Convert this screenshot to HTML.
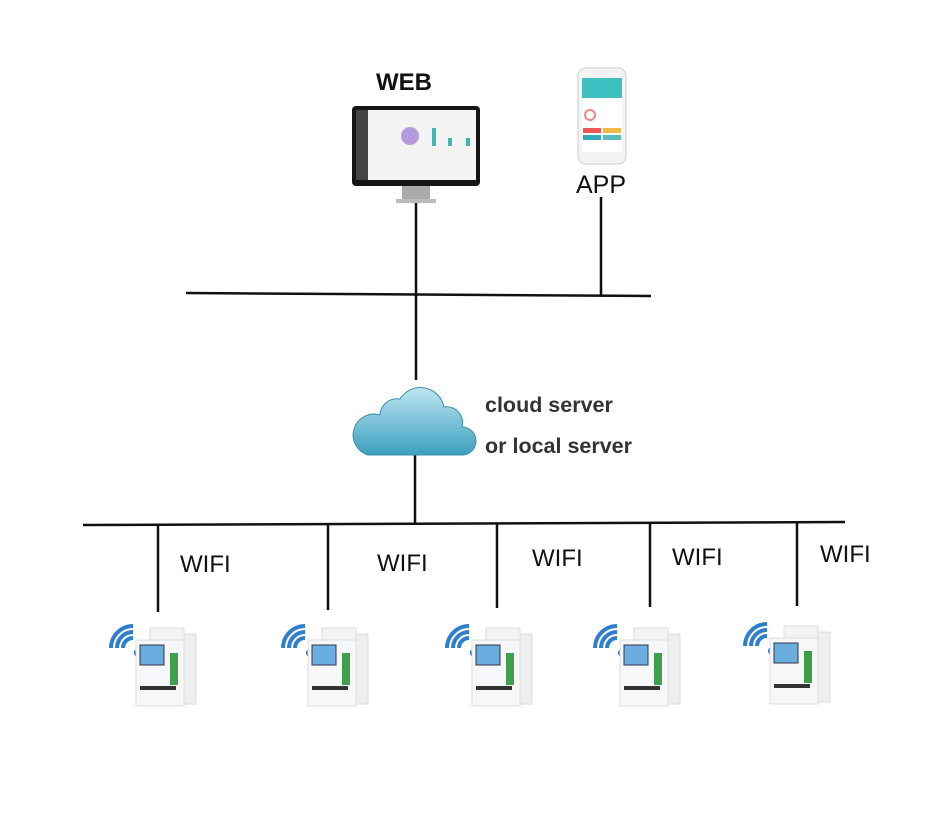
<!DOCTYPE html>
<html><head><style>
body{margin:0;background:#fff;width:928px;height:811px;overflow:hidden;font-family:"Liberation Sans",sans-serif}
</style></head><body>
<svg width="928" height="811" xmlns="http://www.w3.org/2000/svg">
<defs>
<linearGradient id="cl" x1="0" y1="0" x2="0" y2="1"><stop offset="0" stop-color="#bfe6f2"/><stop offset="1" stop-color="#3d9fc0"/></linearGradient>
<g id="dev">
 <path d="M5 30 a22 22 0 0 1 22 -22" stroke="#2f7fd0" stroke-width="4" fill="none"/>
 <path d="M11 30 a16 16 0 0 1 16 -16" stroke="#2f7fd0" stroke-width="4" fill="none"/>
 <path d="M17 30 a10 10 0 0 1 10 -10" stroke="#2f7fd0" stroke-width="4" fill="none"/>
 <circle cx="32" cy="35" r="4" fill="#1d6fc0"/>
 <rect x="44" y="10" width="34" height="78" fill="#f2f3f4" stroke="#ddd"/>
 <rect x="30" y="22" width="48" height="66" fill="#f6f7f8" stroke="#ddd"/>
 <rect x="78" y="16" width="12" height="70" fill="#eceef0" stroke="#ddd"/>
 <rect x="34" y="27" width="24" height="20" fill="#6aaee0" stroke="#334"/>
 <rect x="64" y="35" width="8" height="32" fill="#3f9f4a"/>
 <rect x="34" y="68" width="36" height="4" fill="#333"/>
</g>
</defs>
<text x="376" y="90" font-size="24" font-weight="bold" fill="#111">WEB</text>
<rect x="352" y="106" width="128" height="80" rx="4" fill="#151515"/>
<rect x="356" y="110" width="120" height="70" fill="#f4f4f4"/>
<rect x="356" y="110" width="12" height="70" fill="#444"/>
<circle cx="410" cy="136" r="9" fill="#b69ae0"/>
<rect x="432" y="128" width="4" height="18" fill="#3fb6b0"/><rect x="448" y="138" width="4" height="8" fill="#3fb6b0"/><rect x="466" y="138" width="4" height="8" fill="#3fb6b0"/>
<rect x="402" y="186" width="28" height="14" fill="#aaa"/><rect x="396" y="199" width="40" height="4" fill="#bbb"/>
<rect x="578" y="68" width="48" height="96" rx="8" fill="#f4f4f4" stroke="#ccc"/>
<rect x="582" y="78" width="40" height="74" fill="#fff"/>
<rect x="582" y="78" width="40" height="20" fill="#3ec0c0"/>
<circle cx="590" cy="115" r="5" fill="none" stroke="#e88" stroke-width="2"/>
<rect x="583" y="128" width="18" height="5" fill="#e55"/><rect x="603" y="128" width="18" height="5" fill="#eb4"/>
<rect x="583" y="135" width="18" height="5" fill="#3ab"/><rect x="603" y="135" width="18" height="5" fill="#5bb"/>
<text x="576" y="193" font-size="25" fill="#111">APP</text>
<g stroke="#111" stroke-width="2.5" fill="none">
<line x1="416" y1="203" x2="416" y2="380"/>
<line x1="601" y1="197" x2="601" y2="295"/>
<line x1="186" y1="293" x2="651" y2="296"/>
<line x1="415" y1="455" x2="415" y2="524"/>
<line x1="83" y1="525" x2="845" y2="522"/>
<line x1="158" y1="525" x2="158" y2="612"/>
<line x1="328" y1="524" x2="328" y2="610"/>
<line x1="497" y1="524" x2="497" y2="608"/>
<line x1="650" y1="523" x2="650" y2="607"/>
<line x1="797" y1="523" x2="797" y2="606"/>
</g>
<path d="M368 455 h94 a13 13 0 0 0 0 -28 a16 16 0 0 0 -18 -20 a24 24 0 0 0 -44 -8 a17 17 0 0 0 -20 16 a15 15 0 0 0 -12 40z" fill="url(#cl)" stroke="#3a8fb0"/>
<text x="485" y="412" font-size="21.5" font-weight="bold" fill="#333">cloud server</text>
<text x="485" y="453" font-size="21.5" font-weight="bold" fill="#333">or local server</text>
<g font-size="24" fill="#111">
<text x="180" y="572">WIFI</text><text x="377" y="571">WIFI</text><text x="532" y="566">WIFI</text><text x="672" y="565">WIFI</text><text x="820" y="562">WIFI</text>
</g>
<use href="#dev" x="106" y="618"/>
<use href="#dev" x="278" y="618"/>
<use href="#dev" x="442" y="618"/>
<use href="#dev" x="590" y="618"/>
<use href="#dev" x="740" y="616"/>
</svg>
</body></html>
